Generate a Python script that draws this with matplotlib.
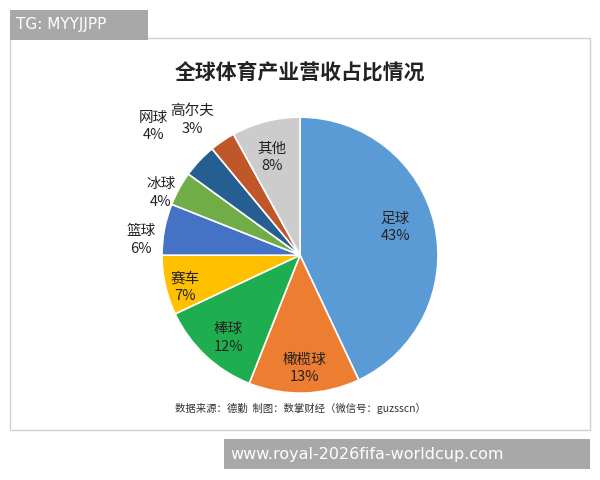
import matplotlib
matplotlib.use("Agg")
import matplotlib.pyplot as plt
from matplotlib.patches import Rectangle

plt.rcParams['font.family'] = ['Noto Sans CJK SC', 'DejaVu Sans']

categories = ['足球', '橄榄球', '棒球', '赛车', '篮球', '冰球', '网球', '高尔夫', '其他']
values = [43, 13, 12, 7, 6, 4, 4, 3, 8]
colors = ['#5b9bd5', '#ed7d31', '#1fae4f', '#ffc000', '#4472c4', '#70ad47', '#255e91', '#c0572a', '#cccccc']
label_pos = [(0.69, 0.20), (0.03, -0.82), (-0.52, -0.60), (-0.83, -0.23), (-1.15, 0.11),
             (-1.01, 0.45), (-1.06, 0.93), (-0.78, 0.98), (-0.20, 0.71)]

fig = plt.figure(figsize=(6, 4.8), dpi=100)
fig.patches.append(Rectangle((10/600, 1-430/480), 580/600, 392/480, transform=fig.transFigure,
                             fill=False, ec='#d0d0d0', lw=1))
ax = fig.add_axes([0.27, 0.181, 0.46, 0.575])
wedges, _ = ax.pie(values, colors=colors, startangle=90, counterclock=False,
                   wedgeprops=dict(edgecolor='white', linewidth=1.2))
for c, v, (x, y) in zip(categories, values, label_pos):
    ax.text(x, y, f"{c}\n{v}%", ha='center', va='center', fontsize=10.5, color='#222222', linespacing=1.3)
ax.set_xlim(-1, 1); ax.set_ylim(-1, 1); ax.set_aspect('equal')

fig.text(0.5, 1-72/480, '全球体育产业营收占比情况', ha='center', va='center', fontsize=15, fontweight='bold', color='#222222')
fig.text(0.5, 1-408/480, '数据来源：德勤  制图：数掌财经（微信号：guzsscn）', ha='center', va='center', fontsize=7.5, color='#333333')

fig.patches.append(Rectangle((10/600, 1-40/480), 138/600, 30/480, transform=fig.transFigure, fc='#a8a8a8', ec='none'))
fig.text(16/600, 1-25/480, 'TG: MYYJJPP', ha='left', va='center', fontsize=11, color='white', family='DejaVu Sans')
fig.patches.append(Rectangle((224/600, 1-469/480), 366/600, 30/480, transform=fig.transFigure, fc='#a8a8a8', ec='none'))
fig.text(230/600, 1-454/480, 'www.royal-2026fifa-worldcup.com', ha='left', va='center', fontsize=11.5, color='white', family='DejaVu Sans')

fig.savefig('out.png', dpi=100)
